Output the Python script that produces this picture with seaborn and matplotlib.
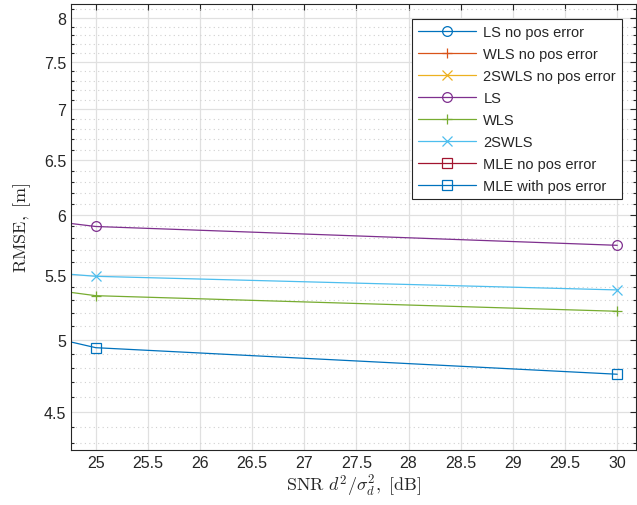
import numpy as np
import matplotlib
matplotlib.use("Agg")
import matplotlib.pyplot as plt
import seaborn as sns
from matplotlib.ticker import FixedLocator, FixedFormatter, NullFormatter

# ---- data ----
snr = [20, 25, 30]
ls_nopos = [3.6, 3.3, 3.2]
wls_nopos = [3.3, 3.0, 2.9]
swls_nopos = [3.2, 2.9, 2.85]
ls = [6.47, 5.90, 5.74]
wls = [5.90, 5.333, 5.213]
swls = [5.83, 5.486, 5.378]
mle_nopos = [2.9, 2.6, 2.55]
mle_pos = [5.89, 4.943, 4.755]

labels = ["LS no pos error", "WLS no pos error", "2SWLS no pos error", "LS",
          "WLS", "2SWLS", "MLE no pos error", "MLE with pos error"]
series = [ls_nopos, wls_nopos, swls_nopos, ls, wls, swls, mle_nopos, mle_pos]
colors = ["#0072BD", "#D95319", "#EDB120", "#7E2F8E", "#77AC30", "#4DBEEE",
          "#A2142F", "#0072BD"]
markers = ["o", "+", "x", "o", "+", "x", "s", "s"]

yticks = [4.5, 5, 5.5, 6, 6.5, 7, 7.5, 8]
yticklabels = ["4.5", "5", "5.5", "6", "6.5", "7", "7.5", "8"]
xticks = [25, 25.5, 26, 26.5, 27, 27.5, 28, 28.5, 29, 29.5, 30]
xticklabels = ["25", "25.5", "26", "26.5", "27", "27.5", "28", "28.5", "29", "29.5", "30"]

sns.set_style("white")
plt.rcParams['font.family'] = ['Liberation Sans', 'DejaVu Sans']
plt.rcParams['mathtext.fontset'] = 'cm'

fig = plt.figure(figsize=(6.37, 5.06), dpi=100)
ax = fig.add_axes([71/637, 55/506, 565/637, 446/506])

for vals, lab, col, mk in zip(series, labels, colors, markers):
    sns.lineplot(x=snr, y=vals, ax=ax, color=col, marker=mk, label=lab,
                 linewidth=0.9, markersize=7, markerfacecolor='none',
                 markeredgecolor=col, markeredgewidth=0.9)

ax.set_yscale('log')
ax.set_xlim(24.763, 30.18)
ax.set_ylim(4.257, 8.165)

ax.yaxis.set_major_locator(FixedLocator(yticks))
ax.yaxis.set_major_formatter(FixedFormatter(yticklabels))
minor = [round(v, 1) for v in np.arange(4.3, 8.15, 0.1) if round(v, 1) not in yticks]
ax.yaxis.set_minor_locator(FixedLocator(minor))
ax.yaxis.set_minor_formatter(NullFormatter())
ax.xaxis.set_major_locator(FixedLocator(xticks))
ax.xaxis.set_major_formatter(FixedFormatter(xticklabels))

ax.grid(True, which='major', color='#E0E0E0', linewidth=0.9, linestyle='-')
ax.grid(True, which='minor', axis='y', color='#D0D0D0', linewidth=0.8, linestyle=(0, (1, 3)))
ax.set_axisbelow(True)

ax.tick_params(axis='both', which='major', direction='in', length=4, width=0.8,
               labelsize=11.5, colors='#262626', top=True, right=True)
ax.tick_params(axis='y', which='minor', direction='in', length=2.5, width=0.8,
               colors='#262626', right=True, left=True)
for s in ax.spines.values():
    s.set_color('#262626')
    s.set_linewidth(0.8)
    s.set_visible(True)

ax.set_xlabel(r'$\mathrm{SNR}\ d^2/\sigma_d^2,\ \mathrm{[dB]}$', fontsize=13, color='#262626', labelpad=2)
ax.set_ylabel(r'$\mathrm{RMSE,\ [m]}$', fontsize=13, color='#262626', labelpad=8)

leg = ax.legend(loc='upper right', bbox_to_anchor=(0.975, 0.966), fontsize=10.5,
                frameon=True, fancybox=False, edgecolor='#262626', framealpha=1,
                handlelength=4.0, borderpad=0.4, labelspacing=0.55, handletextpad=0.5,
                borderaxespad=0)
leg.get_frame().set_linewidth(0.8)

fig.savefig("out.png", dpi=100)
